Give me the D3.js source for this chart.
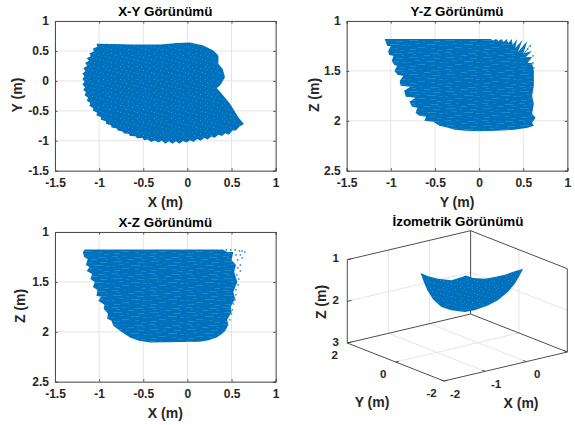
<!DOCTYPE html>
<html>
<head>
<meta charset="utf-8">
<style>
    html, body { margin: 0; padding: 0; background: #fff; }
    text { font-family: "Liberation Sans", Arial, sans-serif; font-weight: bold; fill: #262626; }
    .tick text { font-size: 12px; }
    .title { font-size: 13.4px; fill: #000; }
    .label { font-size: 14px; }
</style>
</head>
<body>
<div id="chart"></div>
<script src="https://cdn.jsdelivr.net/npm/d3@7"></script>
<script>
// tick values
var x_ticks = [-1.5, -1, -0.5, 0, 0.5, 1];
var y_ticks = [-1.5, -1, -0.5, 0, 0.5, 1];
var z_ticks = [1, 1.5, 2, 2.5];
var iso_x_ticks = [-2, -1, 0, 1];
var iso_y_ticks = [-2, 0, 2];
var iso_z_ticks = [1, 2, 3];

// cloud outlines, [horizontal, vertical] in metres
var xy_outline = [[-1.03,.62],[-1.02,.57],[-1.07,.54],[-1.06,.49],[-1.11,.46],[-1.095,.41],[-1.14,.38],[-1.115,.335],[-1.16,.30],[-1.135,.255],[-1.18,.21],[-1.155,.165],[-1.19,.12],[-1.165,.075],[-1.19,.03],[-1.165,-.015],[-1.19,-.06],[-1.16,-.105],[-1.18,-.15],[-1.15,-.19],[-1.165,-.24],[-1.125,-.28],[-1.14,-.33],[-1.10,-.37],[-1.11,-.42],[-1.065,-.455],[-1.07,-.50],[-1.025,-.53],[-1.03,-.58],[-.98,-.605],[-.98,-.65],[-.925,-.675],[-.92,-.72],[-.865,-.74],[-.86,-.78],[-.80,-.795],[-.79,-.83],[-.735,-.845],[-.72,-.88],[-.665,-.885],[-.65,-.92],[-.59,-.925],[-.57,-.96],[-.51,-.955],[-.49,-.99],[-.45,-.98],[-.41,-1.02],[-.37,-.995],[-.33,-1.03],[-.29,-1.0],[-.25,-1.05],[-.21,-1.01],[-.17,-1.05],[-.13,-1.01],[-.09,-1.05],[-.05,-1.005],[-.01,-1.03],[.03,-.99],[.07,-1.02],[.11,-.97],[.15,-1.0],[.19,-.955],[.23,-.98],[.27,-.93],[.31,-.95],[.35,-.90],[.39,-.92],[.43,-.875],[.47,-.90],[.51,-.83],[.55,-.83],[.59,-.76],[.64,-.72],[.577,-.606],[.483,-.383],[.389,-.217],[.332,-.117],[.37,-.078],[.426,.061],[.40,.2],[.351,.283],[.351,.422],[.294,.506],[.181,.589],[.03,.639],[-.121,.633],[-.309,.606],[-.611,.606],[-.838,.617]];

var yz_outline = [[-1.07,1.18],[-1.04,1.25],[-1.0,1.25],[-1.03,1.30],[-1.02,1.34],[-.97,1.35],[-.99,1.40],[-.96,1.44],[-.93,1.45],[-.96,1.50],[-.92,1.54],[-.86,1.55],[-.90,1.60],[-.89,1.65],[-.78,1.66],[-.85,1.70],[-.83,1.76],[-.72,1.77],[-.79,1.81],[-.76,1.86],[-.70,1.87],[-.72,1.92],[-.68,1.95],[-.60,1.96],[-.62,2.0],[-.52,2.01],[-.45,2.05],[-.35,2.07],[-.28,2.09],[-.15,2.1],[0,2.105],[.2,2.1],[.4,2.09],[.55,2.07],[.62,2.05],[.60,2.02],[.64,1.97],[.60,1.93],[.62,1.83],[.60,1.75],[.62,1.65],[.62,1.5],[.60,1.42],[.55,1.42],[.60,1.36],[.53,1.36],[.60,1.30],[.52,1.32],[.605,1.21],[.50,1.33],[.545,1.20],[.44,1.31],[.49,1.19],[.41,1.27],[.43,1.18],[.38,1.24],[.37,1.18],[.33,1.22],[.31,1.18],[.28,1.21],[.25,1.18],[.22,1.20],[.19,1.18],[.16,1.195],[.13,1.18],[-.2,1.18]];

var xz_outline = [[-1.185,1.20],[-1.16,1.175],[.40,1.175],[.45,1.20],[.52,1.20],[.50,1.28],[.55,1.33],[.53,1.40],[.565,1.5],[.52,1.6],[.54,1.67],[.49,1.75],[.50,1.805],[.45,1.88],[.465,1.93],[.43,1.99],[.38,2.03],[.33,2.057],[.24,2.085],[.14,2.10],[-.42,2.107],[-.55,2.09],[-.65,2.057],[-.75,2.0],[-.84,1.94],[-.86,1.89],[-.91,1.87],[-.90,1.82],[-.95,1.77],[-.94,1.73],[-1.01,1.69],[-.98,1.65],[-1.03,1.64],[-1.02,1.58],[-1.07,1.55],[-1.05,1.50],[-1.10,1.47],[-1.08,1.42],[-1.14,1.39],[-1.11,1.35],[-1.15,1.33],[-1.13,1.27],[-1.17,1.25]];

var xz_loose = [[.44,1.18],[.49,1.18],[.54,1.18],[.59,1.19],[.62,1.19],[.65,1.2],[.60,1.23],[.55,1.23],[.62,1.26],[.57,1.28],[.60,1.33],[.57,1.36],[.60,1.39],[.56,1.43],[.58,1.47],[.575,1.53],[.55,1.58],[.55,1.63],[.54,1.68],[.52,1.72],[.51,1.78],[.50,1.82],[.48,1.88]];
var yz_loose = [[.61,1.35],[.61,1.42],[.62,1.47],[.58,1.25],[.55,1.28]];

// isometric outline, [x, y, z]
var iso_outline = [[-1.08,.53,1.2],[-1.09,.20,1.2],[-1.03,-.11,1.2],[-.89,-.42,1.2],[-.67,-.38,1.2],[-.48,-.32,1.2],[-.475,-.605,1.2],[-.32,-.83,1.2],[-.11,-.875,1.2],[.14,-.88,1.2],[.42,-.81,1.2],[.65,-.765,1.2],[.5,-.88,1.3],[.30,-1.02,1.42],[.16,-.97,1.6],[-.07,-.95,1.75],[-.18,-.72,1.9],[-.25,-.29,2.1],[-.465,-.25,2.1],[-.64,.02,2.08],[-.79,.17,2.0],[-.94,.26,1.8],[-1.0,.39,1.6],[-1.08,.43,1.35]];

var cloud_color = '#0072BD', grid_color = '#e4e4e4', axis_color = '#4d4d4d';

var svg = d3.select('#chart').append('svg')
    .attr('width', 575)
    .attr('height', 425)
    .style('display', 'block');

var defs = svg.append('defs');

defs.append('filter').attr('id', 'soft')
    .append('feGaussianBlur').attr('stdDeviation', 0.5);

// speckle inside the clouds
function add_pattern(id, w, h, marks){
    var p = defs.append('pattern')
        .attr('id', id)
        .attr('patternUnits', 'userSpaceOnUse')
        .attr('width', w)
        .attr('height', h);
    p.append('rect').attr('width', w).attr('height', h).attr('fill', cloud_color);
    p.selectAll('rect.m').data(marks).enter().append('rect')
        .attr('class', 'm')
        .attr('x', function(d){return d[0]})
        .attr('y', function(d){return d[1]})
        .attr('width', function(d){return d[2]})
        .attr('height', 1)
        .attr('fill', '#fff')
        .attr('fill-opacity', function(d){return d[3]});
}
add_pattern('speck', 17, 13, [[1,1,1,.2],[5,2,1,.12],[9,1,1,.15],[13,3,1,.19],[3,4,1,.13],[7,5,1,.2],[11,6,1,.11],[15,7,1,.17],[1,8,1,.16],[5,9,1,.11],[9,10,1,.2],[13,11,1,.13],[3,12,1,.12]]);
add_pattern('streak', 37, 17, [[1,1,6,.13],[12,1,3,.09],[24,2,8,.14],[5,3,4,.1],[17,4,6,.15],[31,4,3,.1],[2,6,9,.13],[15,7,3,.09],[26,7,7,.14],[8,9,5,.1],[20,10,9,.15],[1,11,3,.09],[32,11,4,.12],[11,13,7,.13],[24,14,4,.1],[3,15,6,.14],[30,16,5,.12]]);

function plot(opts){
    var x = d3.scaleLinear().domain([-1.5, 1]).range([opts.left, opts.left + 220.7]);
    var y = d3.scaleLinear().domain(opts.y_domain).range([opts.top, opts.top + 149.7]);
    var g = svg.append('g');

    g.selectAll('line.gx').data(x_ticks).enter().append('line')
        .attr('x1', function(d){return x(d)}).attr('x2', function(d){return x(d)})
        .attr('y1', y.range()[0]).attr('y2', y.range()[1])
        .attr('stroke', grid_color);
    g.selectAll('line.gy').data(opts.y_ticks).enter().append('line')
        .attr('x1', x.range()[0]).attr('x2', x.range()[1])
        .attr('y1', function(d){return y(d)}).attr('y2', function(d){return y(d)})
        .attr('stroke', grid_color);

    var line = d3.line()
        .x(function(d){return x(d[0])})
        .y(function(d){return y(d[1])});

    g.append('path')
        .attr('d', line(opts.outline) + 'Z')
        .attr('fill', 'url(#' + opts.pattern + ')')
        .attr('filter', 'url(#soft)');

    g.selectAll('circle').data(opts.loose).enter().append('circle')
        .attr('cx', function(d){return x(d[0])})
        .attr('cy', function(d){return y(d[1])})
        .attr('r', 0.9)
        .attr('fill', cloud_color)
        .attr('fill-opacity', .8);

    // box with inward ticks on all four sides
    var bottom = g.append('g')
        .attr('transform', 'translate(0,' + y.range()[1] + ')')
        .call(d3.axisBottom(x).tickValues(x_ticks).tickSize(-2.5).tickPadding(8).tickFormat(String));
    var left = g.append('g')
        .attr('transform', 'translate(' + x.range()[0] + ',0)')
        .call(d3.axisLeft(y).tickValues(opts.y_ticks).tickSize(-2.5).tickPadding(6).tickFormat(String));
    var top_side = g.append('g')
        .attr('transform', 'translate(0,' + y.range()[0] + ')')
        .call(d3.axisTop(x).tickValues(x_ticks).tickSize(-2.5).tickFormat(''));
    var right = g.append('g')
        .attr('transform', 'translate(' + x.range()[1] + ',0)')
        .call(d3.axisRight(y).tickValues(opts.y_ticks).tickSize(-2.5).tickFormat(''));
    [bottom, left, top_side, right].forEach(function(a){
        a.selectAll('.domain,line').attr('stroke', axis_color);
        a.selectAll('text').attr('fill', null);
        a.attr('font-family', null).attr('font-size', null);
    });

    g.append('text').attr('class', 'title')
        .attr('x', opts.left + 110.3).attr('y', opts.top - 5.5)
        .attr('text-anchor', 'middle').text(opts.title);
    g.append('text').attr('class', 'label')
        .attr('x', opts.left + 110.3).attr('y', opts.top + 186)
        .attr('text-anchor', 'middle').text(opts.x_label);
    g.append('text').attr('class', 'label')
        .attr('transform', 'translate(' + opts.y_label_x + ',' + (opts.top + 74) + ') rotate(-90)')
        .attr('text-anchor', 'middle').text(opts.y_label);
}

plot({title: 'X-Y Görünümü', x_label: 'X (m)', y_label: 'Y (m)', left: 55, top: 21, y_domain: [1, -1.5], y_ticks: y_ticks, outline: xy_outline, loose: [], pattern: 'speck', y_label_x: 21.5});
plot({title: 'Y-Z Görünümü', x_label: 'Y (m)', y_label: 'Z (m)', left: 346.7, top: 21, y_domain: [1, 2.5], y_ticks: z_ticks, outline: yz_outline, loose: yz_loose, pattern: 'streak', y_label_x: 318.5});
plot({title: 'X-Z Görünümü', x_label: 'X (m)', y_label: 'Z (m)', left: 55, top: 232, y_domain: [1, 2.5], y_ticks: z_ticks, outline: xz_outline, loose: xz_loose, pattern: 'streak', y_label_x: 25});

// isometric panel
var ix_u = d3.scaleLinear().domain([-2, 1]).range([444, 567.3]);
var ix_v = d3.scaleLinear().domain([-2, 1]).range([0, -29]);
var iy_u = d3.scaleLinear().domain([-2, 2]).range([0, -96.7]);
var iy_v = d3.scaleLinear().domain([-2, 2]).range([0, -38]);
var iz_v = d3.scaleLinear().domain([3, 1]).range([381, 297.7]);

function iso(p){
    return [ix_u(p[0]) + iy_u(p[1]), ix_v(p[0]) + iy_v(p[1]) + iz_v(p[2])];
}

var iso_g = svg.append('g');

function seg(a, b, color){
    var pa = iso(a), pb = iso(b);
    iso_g.append('line')
        .attr('x1', pa[0]).attr('y1', pa[1])
        .attr('x2', pb[0]).attr('y2', pb[1])
        .attr('stroke', color);
}

// grid on the floor and the two back walls
iso_x_ticks.slice(1, 3).forEach(function(t){
    seg([t, -2, 3], [t, 2, 3], grid_color);
    seg([t, 2, 3], [t, 2, 1], grid_color);
});
seg([-2, 0, 3], [1, 0, 3], grid_color);
seg([1, 0, 3], [1, 0, 1], grid_color);
seg([-2, 2, 2], [1, 2, 2], grid_color);
seg([1, 2, 2], [1, -2, 2], grid_color);

// box edges
seg([-2, 2, 1], [1, 2, 1], axis_color);
seg([1, 2, 1], [1, -2, 1], axis_color);
seg([-2, 2, 1], [-2, 2, 3], axis_color);
seg([1, 2, 1], [1, 2, 3], axis_color);
seg([1, -2, 1], [1, -2, 3], axis_color);
seg([-2, 2, 3], [1, 2, 3], axis_color);
seg([1, 2, 3], [1, -2, 3], axis_color);
seg([-2, 2, 3], [-2, -2, 3], axis_color);
seg([-2, -2, 3], [1, -2, 3], axis_color);

// ticks
iso_x_ticks.forEach(function(t){ seg([t, -2, 3], [t, -1.88, 3], axis_color); });
iso_y_ticks.forEach(function(t){ seg([-2, t, 3], [-1.92, t, 3], axis_color); });
iso_z_ticks.forEach(function(t){ seg([-2, 2, t], [-1.9, 2, t], axis_color); });

iso_g.append('path')
    .attr('d', d3.line()(iso_outline.map(iso)) + 'Z')
    .attr('fill', 'url(#speck)')
    .attr('filter', 'url(#soft)');

iso_g.selectAll('text.xt').data(iso_x_ticks.slice(0, 3)).enter().append('text')
    .attr('class', 'xt')
    .attr('x', function(d){return iso([d, -2, 3])[0] + 11})
    .attr('y', function(d){return iso([d, -2, 3])[1] + 16.5})
    .attr('text-anchor', 'middle')
    .style('font-size', '11.5px')
    .text(String);
iso_g.selectAll('text.yt').data(iso_y_ticks).enter().append('text')
    .attr('class', 'yt')
    .attr('x', function(d){return iso([-2, d, 3])[0] - 12.5})
    .attr('y', function(d){return iso([-2, d, 3])[1] + 16})
    .attr('text-anchor', 'middle')
    .style('font-size', '11.5px')
    .text(String);
iso_g.selectAll('text.zt').data(iso_z_ticks).enter().append('text')
    .attr('class', 'zt')
    .attr('x', 339)
    .attr('y', function(d){return iso([-2, 2, d])[1] + 2.5})
    .attr('text-anchor', 'end')
    .style('font-size', '11.5px')
    .text(String);

iso_g.append('text').attr('class', 'title').attr('x', 458).attr('y', 226).attr('text-anchor', 'middle').text('İzometrik Görünümü');
iso_g.append('text').attr('class', 'label').attr('x', 372).attr('y', 407).attr('text-anchor', 'middle').text('Y (m)');
iso_g.append('text').attr('class', 'label').attr('x', 521).attr('y', 408).attr('text-anchor', 'middle').text('X (m)');
iso_g.append('text').attr('class', 'label')
    .attr('transform', 'translate(326,302) rotate(-90)')
    .attr('text-anchor', 'middle').text('Z (m)');
</script>
</body>
</html>
